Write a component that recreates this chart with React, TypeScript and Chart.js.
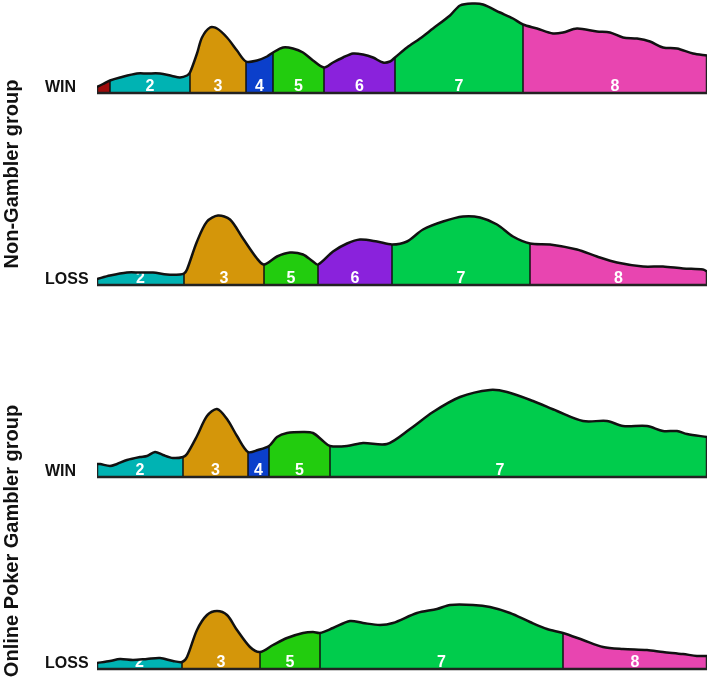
import React, { useEffect, useRef } from "react";
import { Chart, registerables } from "chart.js";

Chart.register(...registerables);

// ---------- DATA ----------
// Category colours (segments of each density ridge)
const categoryColors: Record<number, string> = {
  1: "#9E0B0B",
  2: "#00B3B3",
  3: "#D4960A",
  4: "#0B3FCB",
  5: "#22CC0E",
  6: "#8A22DC",
  7: "#00CC4C",
  8: "#E845B0",
};

const groupNames = ["Non-Gambler group", "Online Poker Gambler group"];
const outcomeLabels = ["WIN", "LOSS", "WIN", "LOSS"]; // top to bottom

// density curves: [position, density]
const nonGamblerWin: [number, number][] = [
  [0, 6], [0.6, 9], [1.3, 12.5], [2.3, 15.5], [4.0, 19.5], [5.0, 19.5], [6.3, 19.5], [7.5, 17],
  [8.3, 15.5], [9.0, 17.5], [9.3, 20.5], [10.0, 39.5], [10.5, 55.5], [11.3, 65.5], [12.0, 64.5],
  [13.0, 55.5], [14.0, 42.5], [14.9, 31.5], [16.0, 32.5], [17.0, 36.5], [17.6, 40.5], [18.6, 45.5],
  [19.6, 44.5], [20.6, 40.5], [21.6, 32.5], [22.7, 25.5], [23.6, 30.5], [24.6, 35.5], [25.6, 39.5],
  [26.6, 38.5], [27.6, 35.5], [28.6, 30.5], [29.3, 31.5], [29.8, 35.5], [31.0, 45.5], [32.3, 54.5],
  [33.6, 64.5], [35.3, 77.5], [36.3, 87.5], [37.6, 89.5], [38.6, 88.5], [40.3, 80.5], [41.6, 74.5],
  [42.6, 68.5], [44.0, 64.5], [45.6, 59.5], [46.6, 60.5], [48.0, 64.5], [50.0, 61.5], [51.3, 60.5],
  [52.6, 55.5], [54.0, 54.5], [55.3, 51.5], [56.6, 45.5], [58.0, 44.5], [59.6, 39.5], [61.0, 37.5],
];
const nonGamblerWinBreaks = [1.3, 9.3, 14.9, 17.6, 22.7, 29.8, 42.6];
const nonGamblerWinCats = [1, 2, 3, 4, 5, 6, 7, 8];

const nonGamblerLoss: [number, number][] = [
  [0, 6], [1.3, 9.5], [3.0, 12.5], [4.3, 12.5], [5.6, 12.5], [7.0, 10.5], [8.3, 10.5], [8.7, 11.5],
  [9.0, 15.5], [10.0, 43.5], [11.0, 63.5], [12.1, 69.5], [13.3, 65.5], [14.6, 46.5], [16.0, 26.5],
  [16.7, 20.5], [18.0, 28.5], [19.3, 32.5], [20.6, 30.5], [21.6, 23.5], [22.1, 20.5], [23.6, 33.5],
  [25.0, 41.5], [26.3, 45.5], [28.0, 43.5], [29.5, 40.5], [31.0, 43.5], [32.6, 55.5], [34.6, 63.5],
  [36.6, 68.5], [38.3, 67.5], [40.0, 60.5], [41.6, 48.5], [43.3, 41.5], [45.3, 40.5], [48.0, 35.5],
  [50.0, 28.5], [52.0, 22.5], [54.6, 18.5], [56.6, 18.5], [58.6, 16.5], [60.6, 15.5], [61.0, 13.5],
];
const nonGamblerLossBreaks = [8.7, 16.7, 22.1, 29.5, 43.3];
const nonGamblerLossCats = [2, 3, 5, 6, 7, 8];

const pokerWin: [number, number][] = [
  [0, 13], [0.3, 13], [1.3, 11], [2.0, 13], [3.0, 17], [4.3, 20], [5.0, 21], [5.8, 25], [6.6, 22],
  [7.6, 19], [8.6, 20], [9.0, 23], [10.0, 41], [11.0, 61], [12.0, 68], [13.0, 58], [14.0, 41],
  [15.1, 25], [16.1, 27], [17.2, 31], [18.0, 40], [19.0, 44], [20.6, 45], [21.6, 44], [22.6, 36],
  [23.3, 31], [25.0, 31], [26.6, 34], [29.0, 33], [31.3, 48], [33.6, 65], [36.3, 80], [39.3, 87],
  [41.0, 85], [43.6, 76], [46.0, 66], [48.6, 56], [51.0, 56], [52.6, 51], [55.0, 51], [56.6, 46],
  [58.0, 46], [59.0, 43], [61.0, 40],
];
const pokerWinBreaks = [8.6, 15.1, 17.2, 23.3];
const pokerWinCats = [2, 3, 4, 5, 7];
const pokerWinLabelAt: (number | null)[] = [null, null, null, null, 40.3];

const pokerLoss: [number, number][] = [
  [0, 6], [1.3, 8], [2.3, 10], [3.6, 9], [5.0, 10], [6.3, 11], [7.6, 8], [8.5, 7], [9.0, 12],
  [10.0, 39], [11.0, 54], [12.0, 58], [13.0, 54], [14.0, 39], [15.3, 22], [16.3, 17], [17.6, 24],
  [19.0, 31], [20.6, 36], [21.6, 37], [22.3, 36], [23.6, 41], [25.3, 48], [26.6, 46], [28.3, 44],
  [29.6, 46], [32.0, 56], [34.0, 60], [35.3, 64], [37.6, 64], [39.3, 62], [41.3, 56], [43.3, 47],
  [45.0, 40], [46.6, 36], [48.6, 29], [50.6, 22], [52.6, 20], [55.0, 19], [56.6, 17], [58.6, 15],
  [60.0, 13], [61.0, 13],
];
const pokerLossBreaks = [8.5, 16.3, 22.3, 46.6];
const pokerLossCats = [2, 3, 5, 7, 8];

// ---------- CHART ----------
type Ridge = {
  curve: [number, number][];
  breaks: number[];
  cats: number[];
  labelAt?: (number | null)[];
};

const ridges: Ridge[] = [
  { curve: nonGamblerWin, breaks: nonGamblerWinBreaks, cats: nonGamblerWinCats },
  { curve: nonGamblerLoss, breaks: nonGamblerLossBreaks, cats: nonGamblerLossCats },
  { curve: pokerWin, breaks: pokerWinBreaks, cats: pokerWinCats, labelAt: pokerWinLabelAt },
  { curve: pokerLoss, breaks: pokerLossBreaks, cats: pokerLossCats },
];

const RIDGE_GAP = 192;
const FONT = '"Liberation Sans", Arial, Helvetica, sans-serif';

export default function App() {
  const ref = useRef<HTMLCanvasElement | null>(null);

  useEffect(() => {
    if (!ref.current) return;
    const fills: any[] = [];
    const dividers: any[] = [];
    const outlines: any[] = [];
    const segLabels: { x: number; base: number; text: string; x0: number; x1: number }[] = [];
    const tickValues: number[] = [];
    const tickTexts: string[] = [];

    ridges.forEach((r, i) => {
      const base = (ridges.length - 1 - i) * RIDGE_GAP;
      const first = r.curve[0][0];
      const last = r.curve[r.curve.length - 1][0];
      const hAt = (x: number) => {
        const p = r.curve.find((q) => Math.abs(q[0] - x) < 1e-6);
        return p ? p[1] : 0;
      };
      const bounds = [first, ...r.breaks, last];
      r.cats.forEach((cat, k) => {
        const lo = bounds[k];
        const hi = bounds[k + 1];
        const pts = r.curve
          .filter((p) => p[0] >= lo - 1e-6 && p[0] <= hi + 1e-6)
          .map((p) => ({ x: p[0], y: base + p[1] }));
        fills.push({
          type: "line",
          data: pts,
          borderWidth: 0,
          borderColor: "rgba(0,0,0,0)",
          pointRadius: 0,
          backgroundColor: categoryColors[cat],
          fill: { value: base },
          tension: 0.3,
          order: 3,
        });
        const lx = r.labelAt && r.labelAt[k] != null ? (r.labelAt[k] as number) : (lo + hi) / 2;
        segLabels.push({ x: lx, base, text: String(cat), x0: lo, x1: hi });
      });
      r.breaks.forEach((b) => {
        dividers.push({
          type: "line",
          data: [
            { x: b, y: base },
            { x: b, y: base + hAt(b) },
          ],
          borderColor: "#111",
          borderWidth: 1.5,
          pointRadius: 0,
          fill: false,
          tension: 0,
          order: 2,
        });
      });
      outlines.push({
        type: "line",
        data: r.curve.map((p) => ({ x: p[0], y: base + p[1] })),
        borderColor: "#111",
        borderWidth: 2.5,
        pointRadius: 0,
        fill: false,
        tension: 0.3,
        order: 1,
      });
      outlines.push({
        type: "line",
        data: [
          { x: first, y: base + r.curve[0][1] },
          { x: first, y: base },
          { x: last, y: base },
          { x: last, y: base + r.curve[r.curve.length - 1][1] },
        ],
        borderColor: "#222",
        borderWidth: 2.5,
        pointRadius: 0,
        fill: false,
        tension: 0,
        order: 1,
      });
      tickValues.push(base + 5);
      tickTexts.push(outcomeLabels[i]);
    });

    const labelPlugin = {
      id: "segLabels",
      afterDatasetDraw(chart: any, args: any) {
        if (args.index !== 0) return;
        const ctx = chart.ctx;
        const xs = chart.scales.x;
        const ys = chart.scales.y;
        ctx.save();
        ctx.fillStyle = "#ffffff";
        ctx.font = `bold 16px ${FONT}`;
        ctx.textAlign = "center";
        ctx.textBaseline = "alphabetic";
        segLabels.forEach((l) => {
          const w = xs.getPixelForValue(l.x1) - xs.getPixelForValue(l.x0);
          if (w < 16) return;
          ctx.fillText(l.text, xs.getPixelForValue(l.x), ys.getPixelForValue(l.base) - 2);
        });
        ctx.restore();
      },
    };

    const chart = new Chart(ref.current, {
      type: "line",
      data: { datasets: [...fills, ...dividers, ...outlines] },
      options: {
        animation: false,
        responsive: true,
        maintainAspectRatio: false,
        parsing: false,
        layout: { padding: { left: 45, right: 2, top: 0, bottom: 0 } },
        plugins: { legend: { display: false }, tooltip: { enabled: false } },
        scales: {
          x: { type: "linear", min: 0, max: 61, display: false },
          y: {
            type: "linear",
            min: -26,
            max: 669,
            position: "left",
            grid: { display: false },
            border: { display: false },
            afterBuildTicks: (s: any) => {
              s.ticks = tickValues.map((v) => ({ value: v }));
            },
            afterFit: (s: any) => {
              s.width = 52;
              s.paddingTop = 0;
              s.paddingBottom = 0;
            },
            ticks: {
              crossAlign: "far",
              padding: 0,
              autoSkip: false,
              color: "#111",
              font: { family: FONT, size: 16, weight: "bold" },
              callback: (_v: any, idx: number) => tickTexts[idx],
            },
          },
        },
      } as any,
      plugins: [labelPlugin],
    } as any);
    return () => chart.destroy();
  }, []);

  const groupStyle = (top: number): React.CSSProperties => ({
    position: "absolute",
    left: 11,
    top,
    transform: "translate(-50%, -50%) rotate(-90deg)",
    whiteSpace: "nowrap",
    fontFamily: FONT,
    fontWeight: "bold",
    fontSize: 20,
    lineHeight: "20px",
    color: "#111",
  });

  return (
    <div style={{ position: "fixed", left: 0, top: 0, width: 709, height: 695, background: "#fff" }}>
      <canvas ref={ref} />
      <div style={groupStyle(174)}>{groupNames[0]}</div>
      <div style={groupStyle(541)}>{groupNames[1]}</div>
    </div>
  );
}
